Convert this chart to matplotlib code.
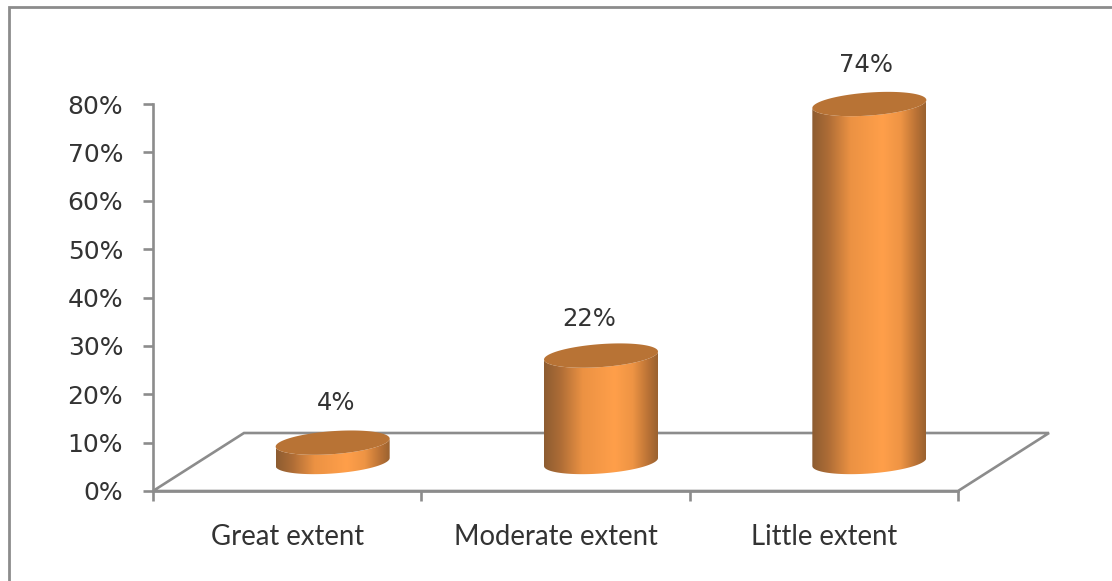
import numpy as np
import matplotlib
matplotlib.use("Agg")
import matplotlib.pyplot as plt
from matplotlib.colors import LinearSegmentedColormap
from matplotlib.patches import Polygon

categories = ["Great extent", "Moderate extent", "Little extent"]
values = [4, 22, 74]
value_labels = ["4%", "22%", "74%"]
y_ticks = [0, 10, 20, 30, 40, 50, 60, 70, 80]
label_nudges = [(3, -40), (-12, -37), (-3, -39)]

W, H = 1112, 581
GREY = "#8c8c8c"
TEXT = "#333333"
DEPTH = (91, -58)
HALF_W, HALF_H, TILT = 57, 11.5, 4

fig = plt.figure(figsize=(W / 100, H / 100), dpi=100, facecolor="white")
ax = fig.add_axes([153 / W, (H - 491) / H, (958 - 153) / W, (491 - 104) / H])
ax.set_xlim(-0.5, 2.5)
ax.set_ylim(0, 80)
for s in ("top", "right"):
    ax.spines[s].set_visible(False)
for s in ("left", "bottom"):
    ax.spines[s].set_color(GREY)
    ax.spines[s].set_linewidth(1.9)
ax.set_yticks(y_ticks)
ax.set_yticklabels([f"{v}%" for v in y_ticks], fontfamily="DejaVu Sans", fontsize=18, color=TEXT)
ax.set_xticks([-0.5, 0.5, 1.5, 2.5])
ax.set_xticklabels([])
ax.set_xticks(range(len(categories)), minor=True)
ax.set_xticklabels(categories, minor=True, fontfamily="Lato", fontsize=19.8, color=TEXT)
ax.tick_params(axis="y", length=7.5, width=1.9, color=GREY, pad=14)
ax.tick_params(axis="x", which="major", length=7, width=1.9, color=GREY)
ax.tick_params(axis="x", which="minor", length=0, pad=24)

px = fig.add_axes([0, 0, 1, 1], facecolor="none")
px.set_axis_off()
px.set_xlim(0, W)
px.set_ylim(H, 0)


def to_px(x, y):
    return px.transData.inverted().transform(ax.transData.transform((x, y)))


# outer frame of the picture
px.plot([9, 9, W], [H, 7, 7], color=GREY, lw=2, solid_capstyle="butt", solid_joinstyle="miter")

# chart floor
fl, fr = to_px(-0.5, 0), to_px(2.5, 0)
floor = np.array([fl, fr, fr + DEPTH, fl + DEPTH])
px.add_patch(Polygon(floor, closed=True, fill=False, edgecolor=GREY, lw=1.9, zorder=2))

body_cmap = LinearSegmentedColormap.from_list(
    "body",
    [(0.0, "#8d5c31"), (0.14, "#ad6c36"), (0.34, "#ec9243"), (0.62, "#ff9f4a"),
     (0.78, "#ee9444"), (0.92, "#b87135"), (1.0, "#9a6230")],
)
t_lower = np.linspace(np.pi, 0, 80)
t_full = np.linspace(0, 2 * np.pi, 160)


def ellipse(cx, cy, t):
    return np.column_stack([cx + HALF_W * np.cos(t), cy + HALF_H * np.sin(t) - TILT * np.cos(t)])


gradient = np.linspace(0, 1, 256).reshape(1, -1)
for i, (v, lab) in enumerate(zip(values, value_labels)):
    base = to_px(i, 0) + np.array(DEPTH) / 2
    top = to_px(i, v) + np.array(DEPTH) / 2
    cx, by, ty = base[0], base[1], top[1]
    low = ellipse(cx, by, t_lower)
    upper = ellipse(cx, ty, t_lower[::-1])
    body = np.vstack([low, upper])
    clip = Polygon(body, closed=True, transform=px.transData)
    im = px.imshow(gradient, cmap=body_cmap, aspect="auto", zorder=3,
                   extent=(cx - HALF_W, cx + HALF_W, by + HALF_H + TILT, ty - HALF_H - TILT))
    im.set_clip_path(clip)
    px.add_patch(Polygon(ellipse(cx, ty, t_full), closed=True, facecolor="#b87335", edgecolor="none", zorder=4))
    nx, ny = label_nudges[i]
    px.text(cx + nx, ty + ny, lab, ha="center", va="center", fontfamily="DejaVu Sans", fontsize=17.5, color=TEXT, zorder=5)

px.set_xlim(0, W)
px.set_ylim(H, 0)
fig.savefig("out.png", dpi=100, facecolor="white")
